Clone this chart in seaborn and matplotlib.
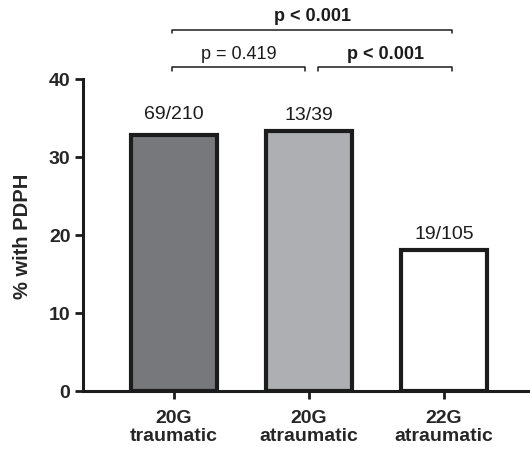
import matplotlib
matplotlib.use("Agg")
import matplotlib.pyplot as plt
import seaborn as sns
import pandas as pd

categories = ["20G\ntraumatic", "20G\natraumatic", "22G\natraumatic"]
events = [69, 13, 19]
totals = [210, 39, 105]
percent = [100 * e / t for e, t in zip(events, totals)]
colors = ["#77787c", "#aeafb3", "#ffffff"]
yticks = [0, 10, 20, 30, 40]

sns.set_theme(style="white")
plt.rcParams["font.family"] = ["Liberation Sans", "DejaVu Sans"]

df = pd.DataFrame({"group": categories, "pct": percent})

fig = plt.figure(figsize=(5.30, 4.52), dpi=100)
ax = fig.add_axes([83 / 530, 60 / 452, 447 / 530, 312 / 452])

sns.barplot(data=df, x="group", y="pct", hue="group", palette=colors,
            legend=False, width=0.64, edgecolor="#1c1c1c", linewidth=3.0,
            saturation=1, ax=ax)

ax.set_ylim(0, 40)
ax.set_xlim(-0.674, -0.674 + 447 / 135)
ax.set_yticks(yticks)
ax.set_yticklabels([str(t) for t in yticks], fontsize=14, fontweight="bold")
ax.set_xticks(range(len(categories)))
ax.set_xticklabels(categories, fontsize=14, fontweight="bold", linespacing=1.1)
ax.set_xlabel("")
ax.set_ylabel("% with PDPH", fontsize=14.5, fontweight="bold", labelpad=12)

for s in ["top", "right"]:
    ax.spines[s].set_visible(False)
for s in ["left", "bottom"]:
    ax.spines[s].set_linewidth(2.2)
    ax.spines[s].set_color("#1c1c1c")
ax.tick_params(axis="y", which="major", direction="out", length=6,
               width=2.0, color="#1c1c1c", pad=3, left=True)
ax.tick_params(axis="x", which="major", direction="out", length=6,
               width=2.0, color="#1c1c1c", pad=7, bottom=True)

# count labels above bars
offsets = [15, 12, 12]
for i, (e, t, p) in enumerate(zip(events, totals, percent)):
    ax.annotate(f"{e}/{t}", xy=(i, p), xytext=(0, offsets[i]),
                textcoords="offset points", ha="center", va="center",
                fontsize=14, color="#1c1c1c")

# significance brackets
def bracket(x1, x2, y, text, bold, ty):
    h = 0.45
    ax.plot([x1, x1, x2, x2], [y - h, y, y, y - h], color="#1c1c1c",
            lw=1.1, clip_on=False)
    ax.text((x1 + x2) / 2, ty, text, ha="center", va="center",
            fontsize=13, fontweight="bold" if bold else "normal",
            color="#1c1c1c", clip_on=False)

bracket(-0.015, 0.97, 41.5, "p = 0.419", False, 43.3)
bracket(1.07, 2.06, 41.5, "p < 0.001", True, 43.3)
bracket(-0.015, 2.06, 46.3, "p < 0.001", True, 48.1)

fig.savefig("out.png", dpi=100)
